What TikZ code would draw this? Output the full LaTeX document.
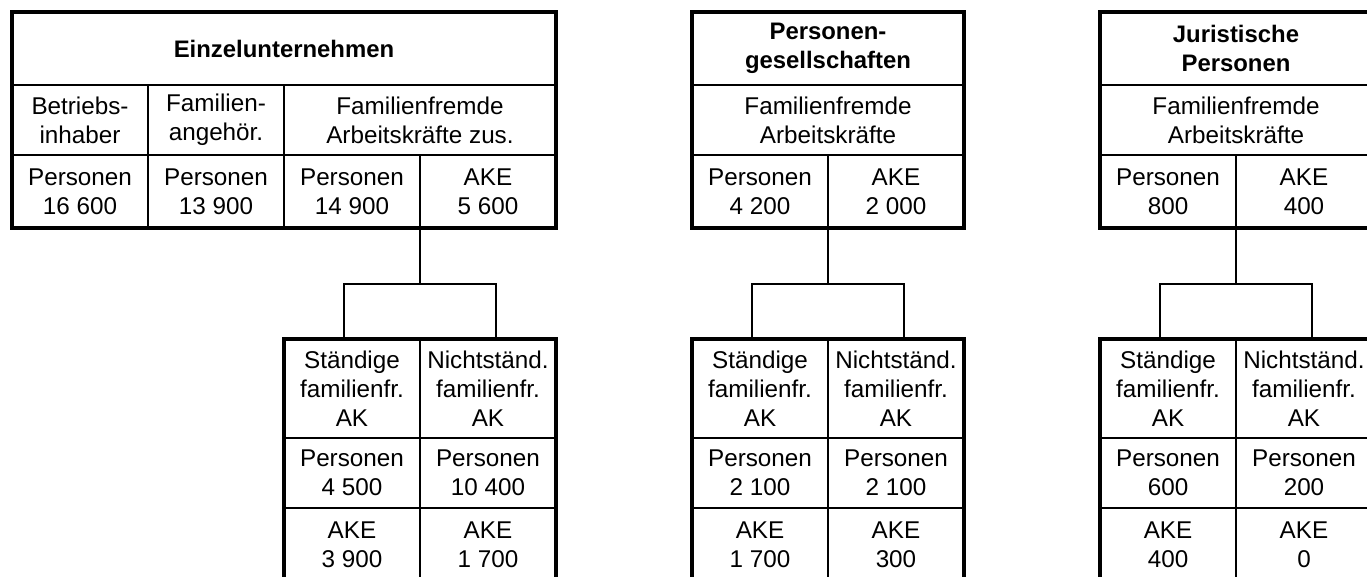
\documentclass[tikz,border=0pt]{standalone}
\usepackage{fontspec}
\setmainfont{Liberation Sans}
\usetikzlibrary{positioning}

\begin{document}
\begin{tikzpicture}[x=0.02cm,y=-0.02cm,
    cell/.style={draw,rectangle,line width=1.1pt,inner sep=0pt,outer sep=0pt,minimum width=2.72cm,minimum height=1.46cm,align=center,font=\fontsize{13.8}{16.5}\selectfont},
    mid/.style={minimum height=1.40cm},
    tall/.style={minimum height=1.98cm},
    wide/.style={minimum width=5.44cm},
    head/.style={cell,font=\fontsize{13.6}{16.5}\selectfont\bfseries},
    frame/.style={draw,line width=2.3pt},
    conn/.style={draw,line width=1.1pt}]
    \useasboundingbox (0,0) rectangle (1367,577);
    \clip (0,0) rectangle (1367,577);

    % Einzelunternehmen
    \node[head,minimum width=10.88cm] (e0) at (284,48.5) {Einzelunternehmen};
    \node[cell,mid,anchor=north west] (e1) at (e0.south west) {Betriebs-\\inhaber};
    \node[cell,mid,right=0pt of e1] (e2) {Familien-\\angehör.};
    \node[cell,mid,wide,right=0pt of e2] (e3) {Familienfremde\\Arbeitskräfte zus.};
    \node[cell,below=0pt of e1] (e4) {Personen\\16 600};
    \node[cell,right=0pt of e4] (e5) {Personen\\13 900};
    \node[cell,right=0pt of e5] (e6) {Personen\\14 900};
    \node[cell,right=0pt of e6] (e7) {AKE\\5 600};
    \draw[frame] (e0.north west) rectangle (e7.south east);

    \node[cell,tall,below=2.22cm of e6] (l1) {Ständige\\familienfr.\\AK};
    \node[cell,tall,right=0pt of l1] (l2) {Nichtständ.\\familienfr.\\AK};
    \node[cell,mid,below=0pt of l1] (l3) {Personen\\4 500};
    \node[cell,mid,right=0pt of l3] (l4) {Personen\\10 400};
    \node[cell,below=0pt of l3] (l5) {AKE\\3 900};
    \node[cell,right=0pt of l5] (l6) {AKE\\1 700};
    \draw[frame] (l1.north west) rectangle (l6.south east);

    \draw[conn] (e6.south east) -- ++(0,56) coordinate (f1);
    \draw[conn] ([xshift=-1.52cm]l1.north east) |- (f1) -| ([xshift=1.52cm]l1.north east);

    % Personengesellschaften
    \node[head] at (828,48.5) [minimum width=5.44cm] (p0) {Personen-\\gesellschaften};
    \node[cell,mid,wide,below=0pt of p0] (p1) {Familienfremde\\Arbeitskräfte};
    \node[cell,anchor=north west] (p2) at (p1.south west) {Personen\\4 200};
    \node[cell,right=0pt of p2] (p3) {AKE\\2 000};
    \draw[frame] (p0.north west) rectangle (p3.south east);

    \node[cell,tall,below=2.22cm of p2] (q1) {Ständige\\familienfr.\\AK};
    \node[cell,tall,right=0pt of q1] (q2) {Nichtständ.\\familienfr.\\AK};
    \node[cell,mid,below=0pt of q1] (q3) {Personen\\2 100};
    \node[cell,mid,right=0pt of q3] (q4) {Personen\\2 100};
    \node[cell,below=0pt of q3] (q5) {AKE\\1 700};
    \node[cell,right=0pt of q5] (q6) {AKE\\300};
    \draw[frame] (q1.north west) rectangle (q6.south east);

    \draw[conn] (p2.south east) -- ++(0,56) coordinate (f2);
    \draw[conn] ([xshift=-1.52cm]q1.north east) |- (f2) -| ([xshift=1.52cm]q1.north east);

    % Juristische Personen
    \node[head] at (1236,48.5) [minimum width=5.44cm] (j0) {Juristische\\Personen};
    \node[cell,mid,wide,below=0pt of j0] (j1) {Familienfremde\\Arbeitskräfte};
    \node[cell,anchor=north west] (j2) at (j1.south west) {Personen\\800};
    \node[cell,right=0pt of j2] (j3) {AKE\\400};
    \draw[frame] (j0.north west) rectangle (j3.south east);

    \node[cell,tall,below=2.22cm of j2] (k1) {Ständige\\familienfr.\\AK};
    \node[cell,tall,right=0pt of k1] (k2) {Nichtständ.\\familienfr.\\AK};
    \node[cell,mid,below=0pt of k1] (k3) {Personen\\600};
    \node[cell,mid,right=0pt of k3] (k4) {Personen\\200};
    \node[cell,below=0pt of k3] (k5) {AKE\\400};
    \node[cell,right=0pt of k5] (k6) {AKE\\0};
    \draw[frame] (k1.north west) rectangle (k6.south east);

    \draw[conn] (j2.south east) -- ++(0,56) coordinate (f3);
    \draw[conn] ([xshift=-1.52cm]k1.north east) |- (f3) -| ([xshift=1.52cm]k1.north east);
\end{tikzpicture}
\end{document}
